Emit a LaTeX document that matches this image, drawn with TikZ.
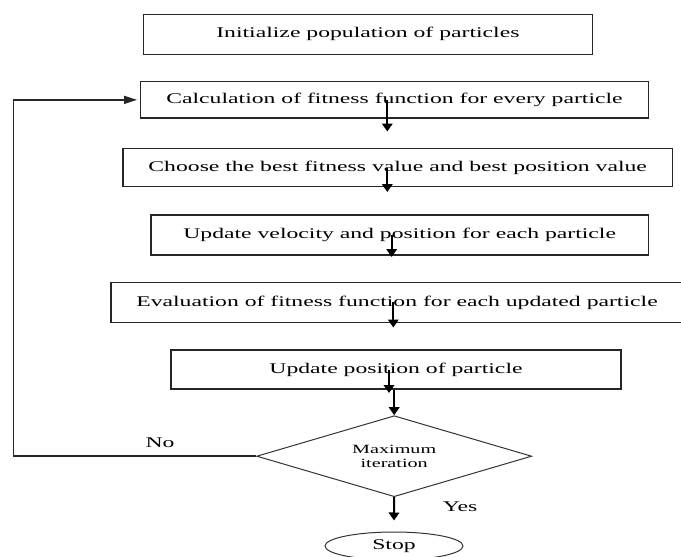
\documentclass[tikz,border=0pt]{standalone}
\usepackage{fontspec}
\setmainfont{Liberation Serif}[FakeStretch=1.6]
\usetikzlibrary{shapes.geometric,arrows.meta}
\begin{document}
\begin{tikzpicture}[x=1pt, y=-1pt,
    box/.style={rectangle, draw=black!85, line width=1.4pt, inner sep=0pt, font=\fontsize{14.8}{16}\selectfont},
    lbl/.style={font=\fontsize{14.8}{16}\selectfont},
    arr/.style={-{Triangle[length=8pt,width=10.5pt]}, line width=2pt},
    back arr/.style={-{Triangle[length=13pt,width=8pt]}, line width=1.6pt, draw=black!85}]

    \useasboundingbox (0,0) rectangle (681,557);

    \node[box, minimum width=449pt, minimum height=40pt] at (367.9,34.3) (init) {Initialize population of particles};
    \node[box, minimum width=507.6pt, minimum height=36.3pt] at (394.5,99.85) (calc) {Calculation of fitness function for every particle};
    \node[box, minimum width=549.3pt, minimum height=38.4pt] at (397.7,167.5) (best) {Choose the best fitness value and best position value};
    \node[box, minimum width=497.3pt, minimum height=40pt] at (399.7,235) (vel) {Update velocity and position for each particle};
    \node[box, minimum width=572pt, minimum height=39.8pt] at (397,302.4) (eval) {Evaluation of fitness function for each updated particle};
    \node[box, minimum width=450pt, minimum height=39pt] at (396,369.5) (pos) {Update position of particle};
    \node[diamond, draw=black!80, line width=1pt, aspect=3.4, minimum width=275pt, minimum height=81pt, inner sep=0pt,
          align=center, font=\fontsize{12.6}{13.5}\selectfont] at (394.2,456.2) (maxit) {Maximum\\iteration};
    \node[ellipse, draw=black!80, line width=1pt, minimum width=138pt, minimum height=28pt, inner sep=0pt, lbl] at (394,546) (stop) {Stop};

    \node[lbl] at (160,443) (no) {No};
    \node[lbl] at (460,506.7) (yes) {Yes};

    \coordinate (t1) at (387.3,131.5);
    \coordinate (t2) at (387.3,192);
    \coordinate (t3) at (391.7,257);
    \coordinate (t4) at (393.3,327.5);
    \coordinate (t5) at (389,393);
    \coordinate (lp) at (13.3,0);

    \draw[arr] (t1 |- calc.center) -- (t1);
    \draw[arr] (t2 |- best.center) -- (t2);
    \draw[arr] (t3 |- vel.center) -- (t3);
    \draw[arr] (t4 |- eval.center) -- (t4);
    \draw[arr] (t5 |- pos.center) -- (t5);
    \draw[arr] (maxit.north |- pos.south) -- (maxit.north);
    \draw[arr] (maxit.south) -- ([yshift=11pt]stop.north);
    \draw[back arr] (maxit.west) -- (lp |- maxit.west) -- (lp |- calc.west) -- ([xshift=-3pt]calc.west);
\end{tikzpicture}
\end{document}
